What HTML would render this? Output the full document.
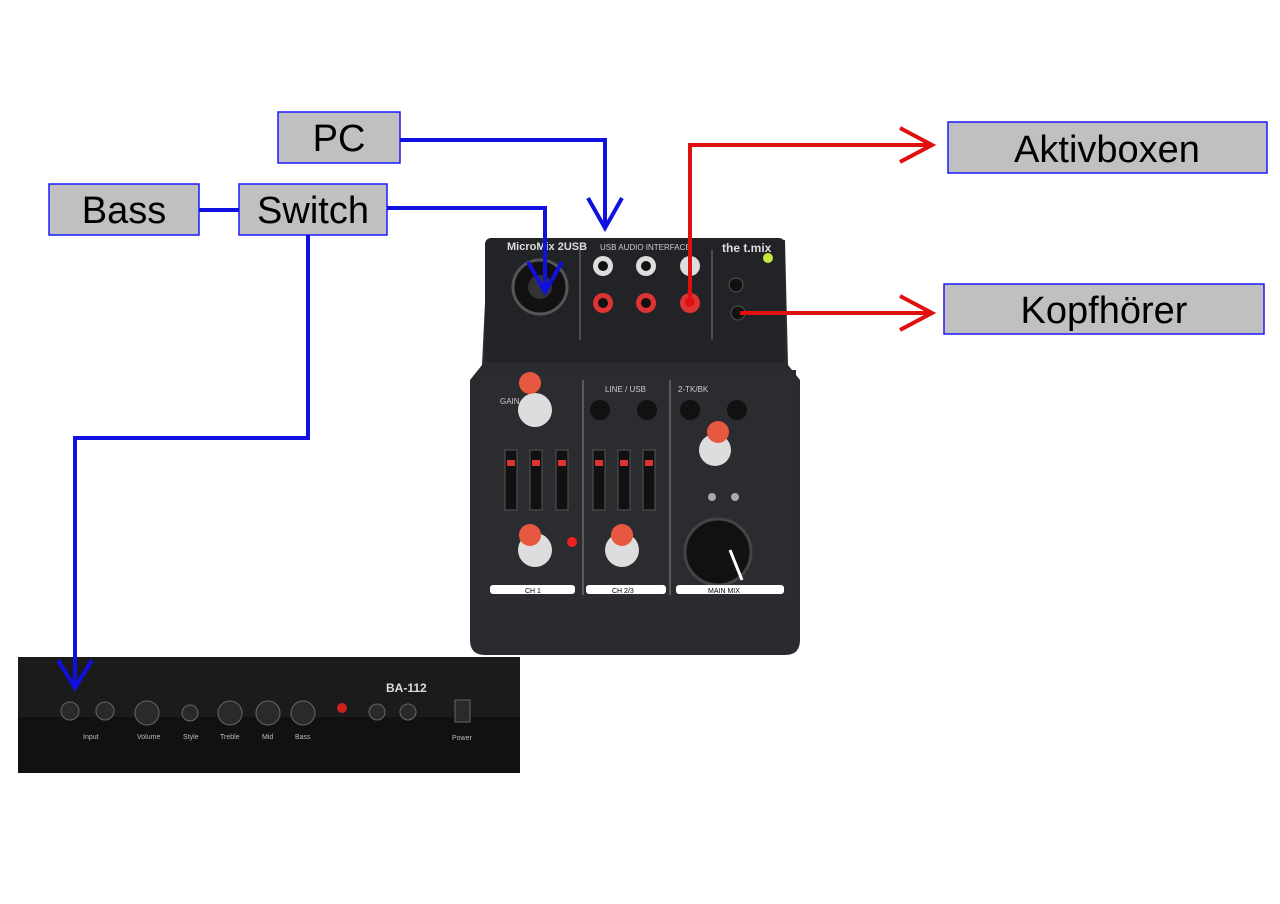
<!DOCTYPE html>
<html><head><meta charset="utf-8"><style>
html,body{margin:0;padding:0;background:#fff;}
svg{display:block;}
text{font-family:"Liberation Sans",sans-serif;}
</style></head><body>
<svg width="1280" height="904" viewBox="0 0 1280 904" xmlns="http://www.w3.org/2000/svg">
<rect width="1280" height="904" fill="#fff"/>
<!-- mixer body -->
<path d="M488 240 L785 240 L788 365 L800 380 L800 640 Q800 655 785 655 L485 655 Q470 655 470 640 L470 380 L482 365 Z" fill="#2a2b2e"/>
<rect x="485" y="238" width="300" height="125" rx="6" fill="#222326"/>
<rect x="480" y="370" width="316" height="230" fill="#2b2c30"/>
<line x1="583" y1="380" x2="583" y2="595" stroke="#888" stroke-width="1"/>
<line x1="670" y1="380" x2="670" y2="595" stroke="#888" stroke-width="1"/>
<line x1="580" y1="250" x2="580" y2="340" stroke="#777"/>
<line x1="712" y1="250" x2="712" y2="340" stroke="#777"/>
<text x="507" y="250" font-size="11" fill="#ddd" font-weight="bold">MicroMix 2USB</text>
<text x="600" y="250" font-size="8" fill="#ccc">USB AUDIO INTERFACE</text>
<text x="722" y="252" font-size="12" fill="#ddd" font-weight="bold">the t.mix</text>
<circle cx="768" cy="258" r="5" fill="#c6e83a"/>
<circle cx="540" cy="287" r="27" fill="#111" stroke="#555" stroke-width="3"/>
<circle cx="540" cy="287" r="12" fill="#333"/>
<g fill="#ddd"><circle cx="603" cy="266" r="10"/><circle cx="646" cy="266" r="10"/><circle cx="690" cy="266" r="10"/></g>
<g fill="#d33"><circle cx="603" cy="303" r="10"/><circle cx="646" cy="303" r="10"/><circle cx="690" cy="303" r="10"/></g>
<g fill="#111"><circle cx="603" cy="266" r="5"/><circle cx="646" cy="266" r="5"/><circle cx="603" cy="303" r="5"/><circle cx="646" cy="303" r="5"/></g>
<circle cx="736" cy="285" r="7" fill="#111" stroke="#555"/><circle cx="738" cy="313" r="7" fill="#111" stroke="#555"/>
<text x="500" y="404" font-size="8" fill="#ccc">GAIN</text>
<text x="605" y="392" font-size="8" fill="#ccc">LINE / USB</text>
<text x="678" y="392" font-size="8" fill="#ccc">2-TK/BK</text>
<circle cx="535" cy="410" r="17" fill="#ddd"/><circle cx="530" cy="383" r="11" fill="#e8573f"/>
<circle cx="600" cy="410" r="10" fill="#111"/><circle cx="647" cy="410" r="10" fill="#111"/>
<circle cx="690" cy="410" r="10" fill="#111"/><circle cx="737" cy="410" r="10" fill="#111"/>
<circle cx="715" cy="450" r="16" fill="#ddd"/><circle cx="718" cy="432" r="11" fill="#e8573f"/>
<g fill="#111" stroke="#555">
<rect x="505" y="450" width="12" height="60"/><rect x="530" y="450" width="12" height="60"/><rect x="556" y="450" width="12" height="60"/>
<rect x="593" y="450" width="12" height="60"/><rect x="618" y="450" width="12" height="60"/><rect x="643" y="450" width="12" height="60"/>
</g>
<g fill="#d33"><rect x="507" y="460" width="8" height="6"/><rect x="532" y="460" width="8" height="6"/><rect x="558" y="460" width="8" height="6"/><rect x="595" y="460" width="8" height="6"/><rect x="620" y="460" width="8" height="6"/><rect x="645" y="460" width="8" height="6"/></g>
<circle cx="535" cy="550" r="17" fill="#ddd"/><circle cx="530" cy="535" r="11" fill="#e8573f"/>
<circle cx="622" cy="550" r="17" fill="#ddd"/><circle cx="622" cy="535" r="11" fill="#e8573f"/>
<circle cx="572" cy="542" r="5" fill="#e22"/>
<circle cx="718" cy="552" r="33" fill="#111" stroke="#444" stroke-width="3"/>
<line x1="730" y1="550" x2="742" y2="580" stroke="#fff" stroke-width="3"/>
<circle cx="712" cy="497" r="4" fill="#aaa"/><circle cx="735" cy="497" r="4" fill="#aaa"/>
<g fill="#fff"><rect x="490" y="585" width="85" height="9" rx="3"/><rect x="586" y="585" width="80" height="9" rx="3"/><rect x="676" y="585" width="108" height="9" rx="3"/></g>
<text x="525" y="593" font-size="7" fill="#000">CH 1</text><text x="612" y="593" font-size="7" fill="#000">CH 2/3</text><text x="708" y="593" font-size="7" fill="#000">MAIN MIX</text>
<!-- amp -->
<rect x="18" y="657" width="502" height="116" fill="#111"/>
<rect x="18" y="657" width="502" height="60" fill="#1b1b1b"/>
<text x="386" y="692" font-size="12" fill="#ddd" font-weight="bold">BA-112</text>
<g fill="#2a2a2a" stroke="#666"><circle cx="70" cy="711" r="9"/><circle cx="105" cy="711" r="9"/><circle cx="147" cy="713" r="12"/><circle cx="190" cy="713" r="8"/><circle cx="230" cy="713" r="12"/><circle cx="268" cy="713" r="12"/><circle cx="303" cy="713" r="12"/><circle cx="377" cy="712" r="8"/><circle cx="408" cy="712" r="8"/><rect x="455" y="700" width="15" height="22"/></g>
<circle cx="342" cy="708" r="5" fill="#c22"/>
<g font-size="7" fill="#bbb"><text x="83" y="739">Input</text><text x="137" y="739">Volume</text><text x="183" y="739">Style</text><text x="220" y="739">Treble</text><text x="262" y="739">Mid</text><text x="295" y="739">Bass</text><text x="452" y="740">Power</text></g>
<!-- boxes -->
<g fill="#c0c0c0" stroke="#1a1aff" stroke-width="1.5">
<rect x="278" y="112" width="122" height="51"/>
<rect x="49" y="184" width="150" height="51"/>
<rect x="239" y="184" width="148" height="51"/>
<rect x="948" y="122" width="319" height="51"/>
<rect x="944" y="284" width="320" height="50"/>
</g>
<g font-size="38" fill="#000" text-anchor="middle">
<text x="339" y="151">PC</text>
<text x="124" y="223">Bass</text>
<text x="313" y="223">Switch</text>
<text x="1107" y="162">Aktivboxen</text>
<text x="1104" y="323">Kopfhörer</text>
</g>
<!-- blue -->
<g fill="none" stroke="#1010e0" stroke-width="4">
<polyline points="400,140 605,140 605,228"/>
<polyline points="588,198 605,228 622,198"/>
<polyline points="387,208 545,208 545,292"/>
<polyline points="528,262 545,292 562,262"/>
<line x1="199" y1="210" x2="239" y2="210"/>
<polyline points="308,235 308,438 75,438 75,688"/>
<polyline points="58,660 75,688 92,660"/>
</g>
<!-- red -->
<g fill="none" stroke="#e01010" stroke-width="4">
<polyline points="690,302 690,145 932,145"/>
<polyline points="900,128 932,145 900,162"/>
<polyline points="740,313 932,313"/>
<polyline points="900,296 932,313 900,330"/>
</g>
<circle cx="690" cy="302" r="5" fill="#e01010"/>
</svg>
</body></html>
